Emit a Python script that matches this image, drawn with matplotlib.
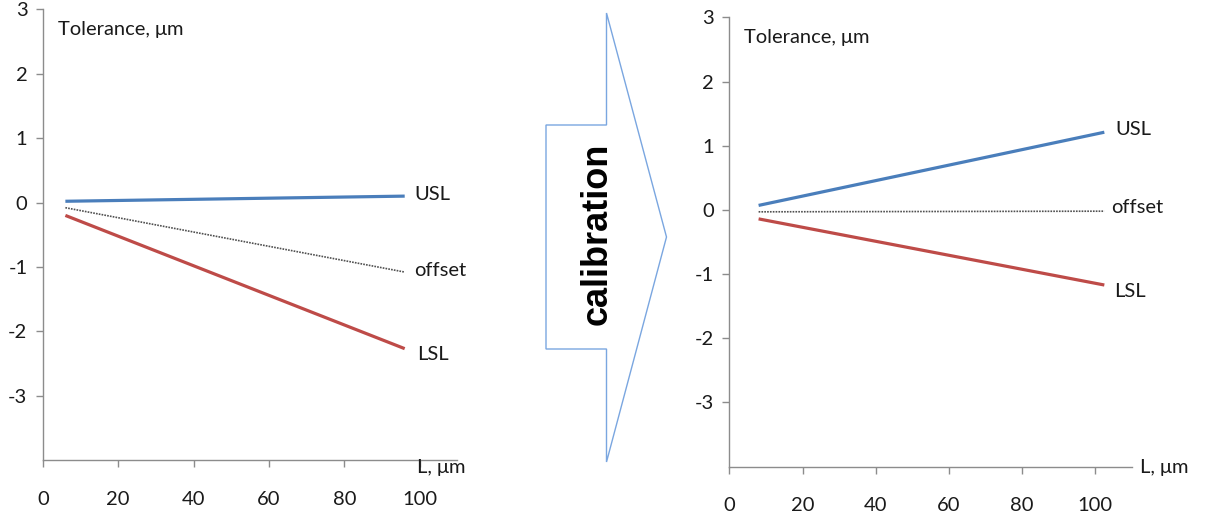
import matplotlib
matplotlib.use("Agg")
import matplotlib.pyplot as plt
from matplotlib.patches import Polygon

plt.rcParams['font.family'] = ['Lato', 'DejaVu Sans']
plt.rcParams['axes.unicode_minus'] = False

# Tolerance limits before calibration
left_L = [6, 96]
left_usl = [0.02, 0.10]
left_offset = [-0.08, -1.08]
left_lsl = [-0.20, -2.27]

# Tolerance limits after calibration
right_L = [8, 102.5]
right_usl = [0.07, 1.21]
right_offset = [-0.03, -0.02]
right_lsl = [-0.14, -1.17]

x_ticks = [0, 20, 40, 60, 80, 100]
y_ticks_left = [-3, -2, -1, 0, 1, 2, 3]
y_ticks_right = [-3, -2, -1, 0, 1, 2, 3]

BLUE = '#4a7ebb'
RED = '#be4b48'
AXIS = '#8c8c8c'
TXT = '#1a1a1a'

W, H = 1218, 515
fig = plt.figure(figsize=(W / 100, H / 100), dpi=100)


def style_axes(ax, yticks):
    for side in ('top', 'right'):
        ax.spines[side].set_visible(False)
    for side in ('left', 'bottom'):
        ax.spines[side].set_color(AXIS)
        ax.spines[side].set_linewidth(1.0)
    ax.set_xlim(0, 110)
    ax.set_ylim(-4, 3)
    ax.set_xticks(x_ticks)
    ax.set_yticks(yticks)
    ax.tick_params(axis='both', colors=AXIS, labelcolor=TXT, labelsize=14.5,
                   direction='out', length=5, width=1.0)
    ax.tick_params(axis='x', pad=17)
    ax.tick_params(axis='y', pad=6)
    ax.patch.set_alpha(0)


def draw_panel(ax, L, usl, offset, lsl, offs):
    ax.plot(L, usl, color=BLUE, lw=2.3, solid_capstyle='butt')
    ax.plot(L, offset, color='#505050', lw=1.2, linestyle=(0, (1.0, 0.7)))
    ax.plot(L, lsl, color=RED, lw=2.3, solid_capstyle='butt')
    for name, series, (dx, dy) in zip(['USL', 'offset', 'LSL'],
                                      [usl, offset, lsl], offs):
        ax.annotate(name, xy=(L[-1], series[-1]), xytext=(dx, dy),
                    textcoords='offset points', fontsize=14.5, color=TXT,
                    ha='left', va='center')
    ax.text(0.037, 0.955, 'Tolerance, μm', transform=ax.transAxes,
            fontsize=14.5, color=TXT, ha='left', va='center')


# Left panel
axl = fig.add_axes([0.0351, 0.1068, 0.3405, 0.8748])
style_axes(axl, y_ticks_left)
draw_panel(axl, left_L, left_usl, left_offset, left_lsl,
           [(7, 1), (7, 1), (9, -4)])
fig.text(417 / W, 1 - 467 / H, 'L, μm', fontsize=14.5, color=TXT,
         ha='left', va='center')

# Right panel
axr = fig.add_axes([0.5988, 0.0938, 0.3304, 0.8726])
style_axes(axr, y_ticks_right)
draw_panel(axr, right_L, right_usl, right_offset, right_lsl,
           [(8, 2), (5, 3), (7, -5)])
fig.text(1140 / W, 1 - 468 / H, 'L, μm', fontsize=14.5, color=TXT,
         ha='left', va='center')

# Calibration arrow between the panels, in pixel coordinates
over = fig.add_axes([0, 0, 1, 1])
over.set_xlim(0, W)
over.set_ylim(H, 0)
over.axis('off')
over.patch.set_alpha(0)
arrow_pts = [(546, 125), (606.5, 125), (606.5, 13), (666.5, 237),
             (606.5, 462), (606.5, 349), (546, 349)]
over.add_patch(Polygon(arrow_pts, closed=True, facecolor='white',
                       edgecolor='#7aa6e0', lw=1.0))
over.text(597, 234, 'calibration', rotation=90, ha='center', va='center',
          fontsize=26, fontweight='bold', color='black',
          family=['Liberation Sans', 'DejaVu Sans'])

fig.savefig('out.png', dpi=100)
